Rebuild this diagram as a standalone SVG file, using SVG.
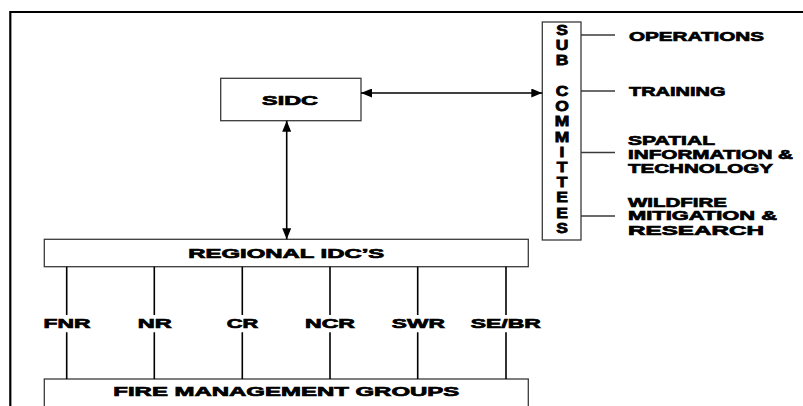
<svg xmlns="http://www.w3.org/2000/svg" width="803" height="406" viewBox="0 0 803 406">
  <style>
    .box { fill: #ffffff; stroke: #3a3a3a; stroke-width: 1.3; }
    .t { font-family: "Liberation Sans", Arial, sans-serif; font-weight: bold; font-size: 13.5px; fill: #000; stroke: #000; stroke-width: 0.7; }
    .v { font-size: 14px; stroke-width: 0.8; }
    .c { text-anchor: middle; }
    .ln { stroke: #000; stroke-width: 1.6; fill: none; }
    .br { stroke: #3a3a3a; stroke-width: 1.3; fill: none; }
    .frame { stroke: #000; stroke-width: 2.2; fill: none; }
  </style>
  <defs>
    <marker id="ah" viewBox="0 0 11 9" refX="11" refY="4.5" markerWidth="11" markerHeight="9" markerUnits="userSpaceOnUse" orient="auto-start-reverse">
      <path d="M0,0 L11,4.5 L0,9 z" fill="#000"/>
    </marker>
  </defs>
  <rect width="803" height="406" fill="#ffffff"/>
  <path class="frame" d="M10.3,407 L10.3,12 L804,12"/>

  <g id="sidc">
    <rect class="box" x="220.7" y="78.3" width="140.3" height="42.4"/>
    <text class="t c" x="290" y="104.7" textLength="56" lengthAdjust="spacingAndGlyphs">SIDC</text>
  </g>

  <g id="subcommittees">
    <rect class="box" x="542.3" y="22" width="38.7" height="218"/>
    <g class="t v c" transform="translate(562 0) scale(1.25 1)">
      <text x="0" y="35.1">S</text>
      <text x="0" y="50.1">U</text>
      <text x="0" y="65.1">B</text>
      <text x="0" y="96.1">C</text>
      <text x="0" y="111.1">O</text>
      <text x="0" y="126.1">M</text>
      <text x="0" y="142.1">M</text>
      <text x="0" y="157.1">I</text>
      <text x="0" y="172.1">T</text>
      <text x="0" y="187.1">T</text>
      <text x="0" y="202.1">E</text>
      <text x="0" y="218.1">E</text>
      <text x="0" y="233.1">S</text>
    </g>
  </g>

  <g id="operations">
    <text class="t" x="629" y="40.7" textLength="135" lengthAdjust="spacingAndGlyphs">OPERATIONS</text>
  </g>
  <g id="training">
    <text class="t" x="629" y="95.7" textLength="96.5" lengthAdjust="spacingAndGlyphs">TRAINING</text>
  </g>
  <g id="spatial">
    <text class="t" x="628" y="144.7" textLength="87" lengthAdjust="spacingAndGlyphs">SPATIAL</text>
    <text class="t" x="628" y="159" textLength="165" lengthAdjust="spacingAndGlyphs">INFORMATION &amp;</text>
    <text class="t" x="628" y="173" textLength="145" lengthAdjust="spacingAndGlyphs">TECHNOLOGY</text>
  </g>
  <g id="wildfire">
    <text class="t" x="628" y="207" textLength="99" lengthAdjust="spacingAndGlyphs">WILDFIRE</text>
    <text class="t" x="628" y="220.4" textLength="149" lengthAdjust="spacingAndGlyphs">MITIGATION &amp;</text>
    <text class="t" x="628" y="234.7" textLength="136" lengthAdjust="spacingAndGlyphs">RESEARCH</text>
  </g>

  <g id="regional">
    <rect class="box" x="44.3" y="239.3" width="484" height="27.4"/>
    <text class="t c" x="286.3" y="258.2" textLength="196" lengthAdjust="spacingAndGlyphs">REGIONAL IDC’S</text>
  </g>

  <g id="fmg">
    <rect class="box" x="44.3" y="379" width="484" height="60"/>
    <text class="t c" x="286.3" y="396.4" textLength="346" lengthAdjust="spacingAndGlyphs">FIRE MANAGEMENT GROUPS</text>
  </g>

  <g id="region-labels">
    <text class="t c" x="67" y="328.2" textLength="47" lengthAdjust="spacingAndGlyphs">FNR</text>
    <text class="t c" x="154.7" y="328.2" textLength="34" lengthAdjust="spacingAndGlyphs">NR</text>
    <text class="t c" x="242.5" y="328.2" textLength="31.5" lengthAdjust="spacingAndGlyphs">CR</text>
    <text class="t c" x="330" y="328.2" textLength="50" lengthAdjust="spacingAndGlyphs">NCR</text>
    <text class="t c" x="418.3" y="328.2" textLength="53" lengthAdjust="spacingAndGlyphs">SWR</text>
    <text class="t c" x="505.8" y="328.2" textLength="70" lengthAdjust="spacingAndGlyphs">SE/BR</text>
  </g>

  <g id="connectors">
    <line class="ln" x1="361" y1="93" x2="542.3" y2="93" marker-start="url(#ah)" marker-end="url(#ah)"/>
    <line class="ln" x1="286.7" y1="120.7" x2="286.7" y2="239.3" marker-start="url(#ah)" marker-end="url(#ah)"/>
    <line class="br" x1="581" y1="35" x2="615" y2="35"/>
    <line class="br" x1="581" y1="91" x2="615" y2="91"/>
    <line class="br" x1="581" y1="152.5" x2="615" y2="152.5"/>
    <line class="br" x1="581" y1="216" x2="615" y2="216"/>
    <path class="ln" d="M66.7,266.7 V315 M66.7,332.3 V379 M154.3,266.7 V315 M154.3,332.3 V379 M242.3,266.7 V315 M242.3,332.3 V379 M330,266.7 V315 M330,332.3 V379 M417.7,266.7 V315 M417.7,332.3 V379 M506,266.7 V315 M506,332.3 V379"/>
  </g>
</svg>
